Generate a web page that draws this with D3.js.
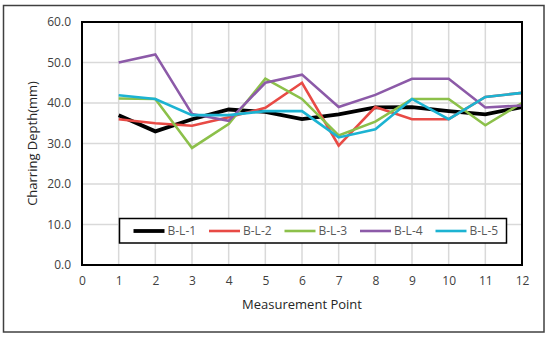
<!DOCTYPE html>
<html>
<head>
<meta charset="utf-8">
<script src="https://cdn.jsdelivr.net/npm/d3@7"></script>
<style>
  body { margin: 0; background: #fff; }
  text { font-family: "Open Sans", sans-serif; }
</style>
</head>
<body>
<div id="app"></div>
<script>
'use strict'
const points = [1, 2, 3, 4, 5, 6, 7, 8, 9, 10, 11, 12]
const seriesNames = ['B-L-1', 'B-L-2', 'B-L-3', 'B-L-4', 'B-L-5']
const bl1 = [37, 33, 36, 38.4, 37.8, 36, 37.2, 38.9, 39, 38, 37.2, 39]
const bl2 = [36, 35, 34.4, 36.5, 38.8, 45, 29.5, 39, 36, 36, 41.5, 42.5]
const bl3 = [41.1, 41, 28.9, 34.8, 46, 41, 32, 35.4, 41, 41, 34.5, 40]
const bl4 = [50, 52, 37.3, 35.6, 45, 47, 39, 42, 46, 46, 38.9, 39.4]
const bl5 = [41.9, 41, 37, 37, 38, 38, 31.5, 33.5, 41, 36, 41.5, 42.5]
const yTicks = [0, 10, 20, 30, 40, 50, 60]
const xTicks = [0, 1, 2, 3, 4, 5, 6, 7, 8, 9, 10, 11, 12]
const colors = ['#000000', '#e84a45', '#8cc04a', '#8c5aa8', '#1cb3d2']
const widths = [3.8, 2.6, 2.6, 2.6, 2.6]

const allSeries = [bl1, bl2, bl3, bl4, bl5]

const W = 550, H = 338
const plot = { left: 82, right: 522, top: 22, bottom: 265 }

const svg = d3.select('#app').append('svg')
  .attr('width', W)
  .attr('height', H)

// outer frame
svg.append('rect')
  .attr('x', 3.5).attr('y', 5.5)
  .attr('width', 540.5).attr('height', 326.5)
  .attr('fill', 'none')
  .attr('stroke', '#404040')
  .attr('stroke-width', 1.5)

const x = d3.scaleLinear().domain([0, 12]).range([plot.left, plot.right])
const y = d3.scaleLinear().domain([0, 60]).range([plot.bottom, plot.top])

// grid
svg.append('g').selectAll('line.h')
  .data(yTicks.slice(1, -1))
  .enter().append('line')
  .attr('x1', plot.left).attr('x2', plot.right)
  .attr('y1', d => y(d)).attr('y2', d => y(d))
  .attr('stroke', '#d9d9d9').attr('stroke-width', 1.5)

svg.append('g').selectAll('line.v')
  .data(xTicks.slice(1, -1))
  .enter().append('line')
  .attr('y1', plot.top).attr('y2', plot.bottom)
  .attr('x1', d => x(d)).attr('x2', d => x(d))
  .attr('stroke', '#d9d9d9').attr('stroke-width', 1.5)

// axes
const yAxis = svg.append('g')
  .attr('transform', `translate(${plot.left},0)`)
  .call(d3.axisLeft(y).tickValues(yTicks).tickFormat(d3.format('.1f')).tickSize(0).tickPadding(11))
yAxis.select('.domain').remove()
yAxis.selectAll('text').attr('fill', '#404040').style('font-size', '12px').style('font-family', '"Open Sans", sans-serif')

const xAxis = svg.append('g')
  .attr('transform', `translate(0,${plot.bottom})`)
  .call(d3.axisBottom(x).tickValues(xTicks).tickFormat(d3.format('d')).tickSize(0).tickPadding(11))
xAxis.select('.domain').remove()
xAxis.selectAll('text').attr('fill', '#404040').style('font-size', '12px').style('font-family', '"Open Sans", sans-serif')

// axis titles
svg.append('text')
  .attr('x', (plot.left + plot.right) / 2 + 0)
  .attr('y', 309)
  .attr('text-anchor', 'middle')
  .attr('fill', '#262626')
  .style('font-size', '13px')
  .text('Measurement Point')

svg.append('text')
  .attr('transform', 'translate(37,143.5) rotate(-90)')
  .attr('text-anchor', 'middle')
  .attr('fill', '#262626')
  .style('font-size', '13px')
  .text('Charring Depth(mm)')

// lines
const line = d3.line()
  .x((d, i) => x(points[i]))
  .y(d => y(d))

svg.append('g').selectAll('path')
  .data(allSeries)
  .enter().append('path')
  .attr('d', d => line(d))
  .attr('fill', 'none')
  .attr('stroke', (d, i) => colors[i])
  .attr('stroke-width', (d, i) => widths[i])
  .attr('stroke-linejoin', 'miter')

// plot border
svg.append('rect')
  .attr('x', plot.left).attr('y', plot.top)
  .attr('width', plot.right - plot.left).attr('height', plot.bottom - plot.top)
  .attr('fill', 'none')
  .attr('stroke', '#000')
  .attr('stroke-width', 2)

// legend
const legend = svg.append('g')
legend.append('rect')
  .attr('x', 119.5).attr('y', 218.5)
  .attr('width', 387).attr('height', 24.5)
  .attr('fill', '#fff')
  .attr('stroke', '#000')
  .attr('stroke-width', 1.5)

const item = legend.selectAll('g.item')
  .data(seriesNames)
  .enter().append('g')
  .attr('transform', (d, i) => `translate(${133.5 + i * 75.5},231)`)

item.append('line')
  .attr('x1', 0).attr('x2', 31)
  .attr('stroke', (d, i) => colors[i])
  .attr('stroke-width', (d, i) => widths[i])

item.append('text')
  .attr('x', 34)
  .attr('dy', '0.35em')
  .attr('fill', '#595959')
  .style('font-size', '12px')
  .text(d => d)
</script>
</body>
</html>
